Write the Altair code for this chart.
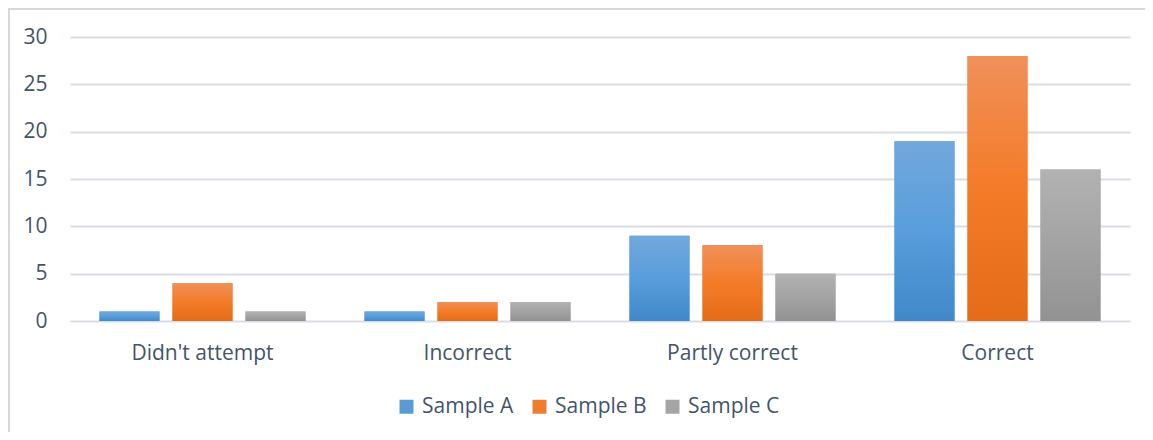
import altair as alt
import pandas as pd

categories = ["Didn't attempt", "Incorrect", "Partly correct", "Correct"]
series = ["Sample A", "Sample B", "Sample C"]
sample_a = [1, 1, 9, 19]
sample_b = [4, 2, 8, 28]
sample_c = [1, 2, 5, 16]
y_ticks = [0, 5, 10, 15, 20, 25, 30]

solid_colors = ["#5b9bd5", "#ed7d31", "#a5a5a5"]
grad_top = ["#72a8dc", "#f0905a", "#b2b2b2"]
grad_mid = ["#589ddc", "#f47b27", "#a3a3a3"]
grad_bot = ["#4088c8", "#e46b18", "#929292"]

rows = []
for s, vals in zip(series, [sample_a, sample_b, sample_c]):
    for c, v in zip(categories, vals):
        rows.append({"category": c, "series": s, "value": v})
df = pd.DataFrame(rows)

TEXT = "#44546a"
FONT = "Open Sans"

x_enc = alt.X(
    "category:N",
    sort=categories,
    scale=alt.Scale(domain=categories, paddingInner=0, paddingOuter=0),
    axis=alt.Axis(title=None, labelAngle=0, ticks=False, domain=False,
                  labelPadding=21, grid=False),
)
xo_enc = alt.XOffset(
    "series:N",
    scale=alt.Scale(domain=series, paddingInner=0.178, paddingOuter=0.404),
)
y_enc = alt.Y(
    "value:Q",
    scale=alt.Scale(domain=[0, 30], nice=False),
    axis=alt.Axis(title=None, values=y_ticks, domain=False, ticks=False,
                  labelPadding=23, gridColor="#d9dde3", gridWidth=1.8),
)

base = alt.Chart(df)

solid = base.mark_bar().encode(
    x=x_enc,
    xOffset=xo_enc,
    y=y_enc,
    color=alt.Color(
        "series:N",
        scale=alt.Scale(domain=series, range=solid_colors),
        legend=alt.Legend(
            orient="none", legendX=326, legendY=359, direction="horizontal",
            title=None, symbolType="square", symbolSize=196,
            symbolStrokeWidth=0, labelFontSize=21, labelColor=TEXT,
            labelFont=FONT, columnPadding=15, labelOffset=5,
        ),
    ),
)

layers = [solid]
for i, s in enumerate(series):
    grad = alt.Gradient(
        gradient="linear",
        stops=[
            alt.GradientStop(color=grad_top[i], offset=0),
            alt.GradientStop(color=grad_mid[i], offset=0.5),
            alt.GradientStop(color=grad_bot[i], offset=1),
        ],
        x1=0, x2=0, y1=0, y2=1,
    )
    layers.append(
        base.transform_filter(alt.datum.series == s)
        .mark_bar(fill=grad)
        .encode(x=x_enc, xOffset=xo_enc, y=y_enc)
    )

border = alt.Chart(alt.Data(values=[{"k": 1}])).mark_rect(
    filled=False, stroke="#d9d9d9", strokeWidth=2
).encode(
    x=alt.value(-61), x2=alt.value(1100),
    y=alt.value(-28), y2=alt.value(460),
)
layers.append(border)

chart = alt.layer(*layers).properties(
    width=1060,
    height=284,
    autosize=alt.AutoSizeParams(type="none"),
    padding={"left": 62, "top": 29, "right": 15, "bottom": 111},
).configure(
    font=FONT,
).configure_view(
    stroke=None,
).configure_axis(
    labelFont=FONT, labelFontSize=21, labelColor=TEXT,
)

chart.save("out.html", embed_options={"renderer": "svg", "actions": False})
